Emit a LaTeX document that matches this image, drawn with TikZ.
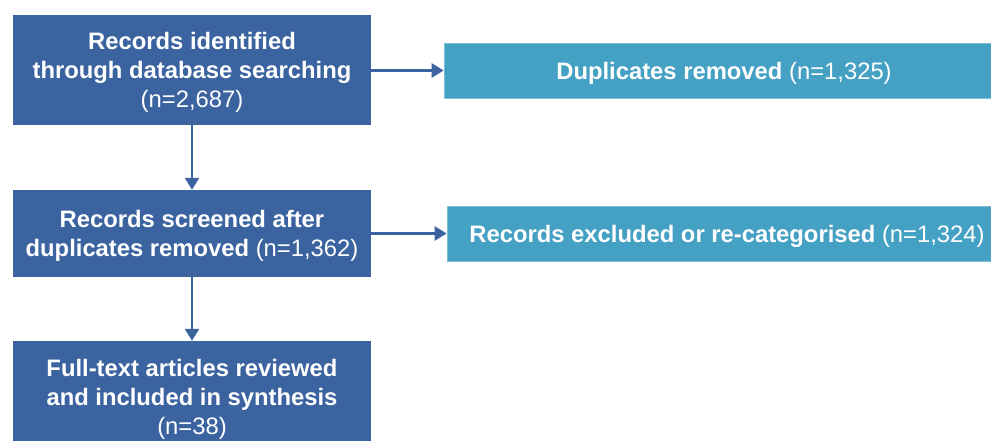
\documentclass[tikz,border=0pt]{standalone}
\usepackage{fontspec}
\setmainfont{Liberation Sans}
\usetikzlibrary{arrows.meta}
\definecolor{darkbox}{HTML}{3A63A0}
\definecolor{lightbox}{HTML}{45A1C4}
\begin{document}
\begin{tikzpicture}[x=1pt,y=1pt,
  txt/.style={font=\fontsize{23.8}{28.8}\selectfont, text=white, align=center, inner sep=0pt, yshift=-2.5pt},
  mainbox/.style={fill=darkbox, minimum width=358pt, inner sep=0pt},
  sidebox/.style={fill=lightbox, draw=lightbox!70!white, line width=0.6pt, minimum width=560pt, minimum height=55pt, inner sep=0pt},
  conn/.style={darkbox, line width=2.4pt, -{Triangle[width=14pt,length=12pt]}}]
\useasboundingbox (0,0) rectangle (991,-441);
\clip (0,0) rectangle (991,-441);
\node[mainbox, minimum height=110pt, label={[txt]center:{\textbf{Records identified}\\\textbf{through database searching}\\(n=2,687)}}] (a) at (192,-70) {};
\node[mainbox, minimum height=87pt, label={[txt]center:{\textbf{Records screened after}\\\textbf{duplicates removed} (n=1,362)}}] (b) at (192,-233.5) {};
\node[mainbox, minimum height=112pt, label={[txt]center:{\textbf{Full-text articles reviewed}\\\textbf{and included in synthesis}\\(n=38)}}] (c) at (192,-397) {};
\node[sidebox, label={[txt]center:{\textbf{Duplicates removed} (n=1,325)}}] (d) at (724,-70.5) {};
\node[sidebox, label={[txt]center:{\textbf{Records excluded or re-categorised} (n=1,324)}}] (e) at (727,-233.5) {};
\draw[conn] (a.south) -- (b.north);
\draw[conn] (b.south) -- (c.north);
\draw[conn] (a.east |- d.west) -- (d.west);
\draw[conn] (b.east |- e.west) -- (e.west);
\end{tikzpicture}
\end{document}
